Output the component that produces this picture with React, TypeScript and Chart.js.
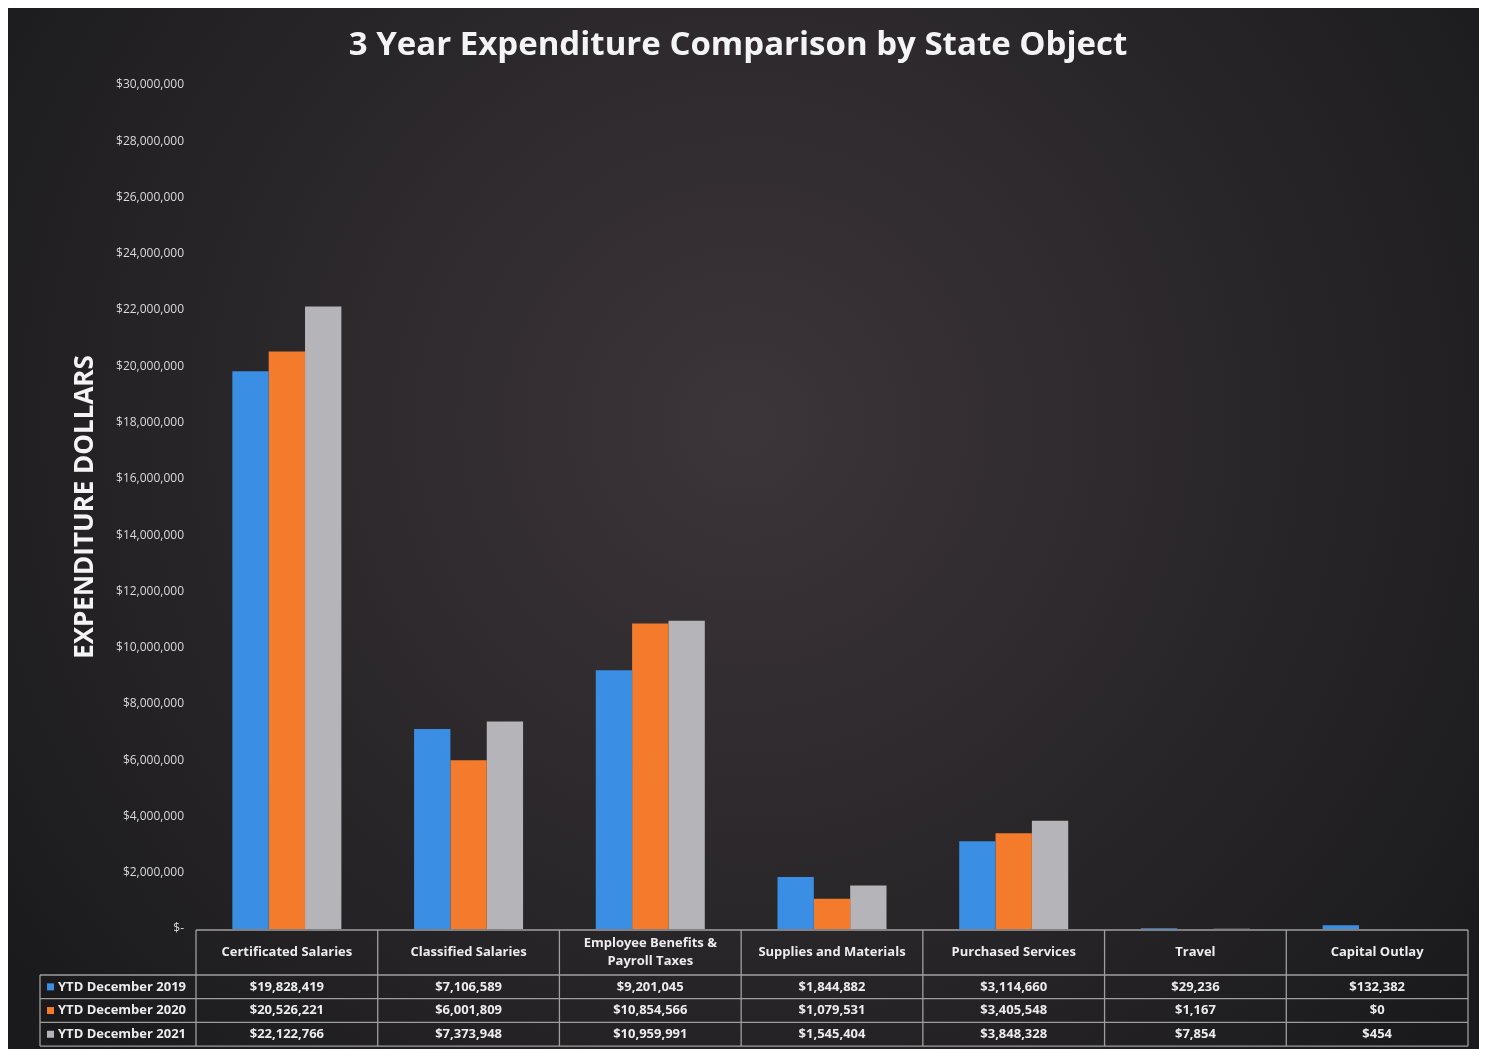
import React, { useEffect, useRef } from 'react';
import { Chart, registerables } from 'chart.js';

Chart.register(...registerables);

const categories: (string | string[])[] = [
  'Certificated Salaries',
  'Classified Salaries',
  ['Employee Benefits &', 'Payroll Taxes'],
  'Supplies and Materials',
  'Purchased Services',
  'Travel',
  'Capital Outlay',
];
const seriesNames = ['YTD December 2019', 'YTD December 2020', 'YTD December 2021'];
const ytd2019 = [19828419, 7106589, 9201045, 1844882, 3114660, 29236, 132382];
const ytd2020 = [20526221, 6001809, 10854566, 1079531, 3405548, 1167, 0];
const ytd2021 = [22122766, 7373948, 10959991, 1545404, 3848328, 7854, 454];
const seriesColors = ['#3a8ee3', '#f47b2b', '#b4b4b9'];
const yMax = 30000000;
const yStep = 2000000;
const titleText = '3 Year Expenditure Comparison by State Object';
const yAxisTitle = 'EXPENDITURE DOLLARS';

const FONT = "'Open Sans', 'DejaVu Sans', sans-serif";
const fmt = (v: number) => '$' + v.toLocaleString('en-US');

const W = 1474;
const H = 1041;

const backgroundPlugin = {
  id: 'bgPanel',
  beforeDraw(chart: any) {
    const { ctx, width, height } = chart;
    ctx.save();
    const g = ctx.createRadialGradient(width * 0.5, height * 0.4, 20, width * 0.5, height * 0.4, width * 0.62);
    g.addColorStop(0, '#3b3438');
    g.addColorStop(0.55, '#29262a');
    g.addColorStop(1, '#1a1a1c');
    ctx.fillStyle = g;
    ctx.fillRect(0, 0, width, height);
    ctx.restore();
  },
};

const tablePlugin = {
  id: 'dataTable',
  afterDraw(chart: any) {
    const { ctx, chartArea } = chart;
    const xs = chart.scales.x;
    const n = categories.length;
    const catW = (chartArea.right - chartArea.left) / n;
    const top = chartArea.bottom + 1;
    const headerH = 45;
    const rowH = 23.7;
    const legendLeft = 32;
    const rightEdge = chartArea.right;
    const tableBottom = top + headerH + rowH * 3;
    const series = [ytd2019, ytd2020, ytd2021];

    ctx.save();
    ctx.strokeStyle = 'rgba(200,200,200,0.75)';
    ctx.lineWidth = 1.3;

    ctx.beginPath();
    ctx.moveTo(chartArea.left, top);
    ctx.lineTo(rightEdge, top);
    for (let r = 0; r <= 3; r++) {
      const y = top + headerH + rowH * r;
      ctx.moveTo(legendLeft, y);
      ctx.lineTo(rightEdge, y);
    }
    for (let i = 0; i <= n; i++) {
      const x = i < n ? xs.getPixelForValue(i) - catW / 2 : xs.getPixelForValue(n - 1) + catW / 2;
      ctx.moveTo(x, top);
      ctx.lineTo(x, tableBottom);
    }
    ctx.moveTo(legendLeft, top + headerH);
    ctx.lineTo(legendLeft, tableBottom);
    ctx.stroke();

    ctx.fillStyle = '#ececec';
    ctx.textAlign = 'center';
    ctx.textBaseline = 'middle';
    ctx.font = `bold 13px ${FONT}`;
    for (let i = 0; i < n; i++) {
      const cx = xs.getPixelForValue(i);
      const lab = categories[i];
      const lines = Array.isArray(lab) ? lab : [lab];
      const cy = top + headerH / 2;
      lines.forEach((ln, k) => {
        ctx.fillText(ln, cx, cy + (k - (lines.length - 1) / 2) * 18);
      });
      for (let s = 0; s < 3; s++) {
        ctx.fillText(fmt(series[s][i]), cx, top + headerH + rowH * s + rowH / 2);
      }
    }
    ctx.textAlign = 'left';
    for (let s = 0; s < 3; s++) {
      const cy = top + headerH + rowH * s + rowH / 2;
      ctx.fillStyle = seriesColors[s];
      ctx.fillRect(legendLeft + 7, cy - 3.5, 7, 7);
      ctx.fillStyle = '#ececec';
      ctx.fillText(seriesNames[s], legendLeft + 18, cy);
    }
    ctx.restore();
  },
};

export default function App() {
  const ref = useRef<HTMLCanvasElement | null>(null);

  useEffect(() => {
    document.documentElement.style.overflow = 'hidden';
    if (!ref.current) return;
    const chart = new Chart(ref.current, {
      type: 'bar',
      data: {
        labels: categories as any,
        datasets: [ytd2019, ytd2020, ytd2021].map((d, i) => ({
          label: seriesNames[i],
          data: d,
          backgroundColor: seriesColors[i],
          borderWidth: 0,
          categoryPercentage: 0.6,
          barPercentage: 1.0,
        })),
      },
      options: {
        animation: false,
        responsive: false,
        devicePixelRatio: 1,
        layout: { padding: { left: 0, right: 14, top: 0, bottom: 0 } },
        plugins: {
          legend: { display: false },
          tooltip: { enabled: false },
          title: {
            display: true,
            text: titleText,
            color: '#f4f4f4',
            font: { family: FONT, size: 33, weight: 'bold' },
            padding: { top: 18, bottom: 19.4 },
          },
        },
        scales: {
          x: {
            grid: { display: false, drawTicks: false },
            border: { display: false },
            ticks: { display: false },
            afterFit(scale: any) {
              scale.height = 120;
            },
          },
          y: {
            min: 0,
            max: yMax,
            grid: { display: false, drawTicks: false },
            border: { display: false },
            ticks: {
              stepSize: yStep,
              padding: 12,
              color: '#dadada',
              font: { family: FONT, size: 12 },
              callback: (v: any) => (Number(v) === 0 ? '$-' : fmt(Number(v))),
            },
            title: {
              display: true,
              text: yAxisTitle,
              color: '#f4f4f4',
              font: { family: FONT, size: 26, weight: 'bold' },
              padding: { top: 62, bottom: 0 },
            },
            afterFit(scale: any) {
              scale.width = 188;
            },
          },
        },
      },
      plugins: [backgroundPlugin, tablePlugin],
    } as any);
    return () => chart.destroy();
  }, []);

  return (
    <div style={{ width: W, height: H }}>
      <canvas ref={ref} width={W} height={H} style={{ display: 'block', width: W, height: H }} />
    </div>
  );
}
